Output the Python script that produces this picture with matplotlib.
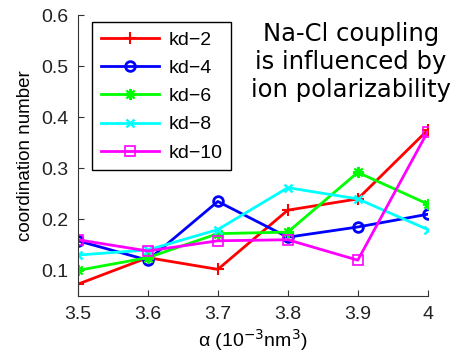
import matplotlib
matplotlib.use("Agg")
import matplotlib.pyplot as plt

alpha = [3.5, 3.6, 3.7, 3.8, 3.9, 4.0]
kd2 = [0.073, 0.125, 0.102, 0.218, 0.240, 0.375]
kd4 = [0.158, 0.120, 0.235, 0.165, 0.185, 0.210]
kd6 = [0.100, 0.125, 0.172, 0.175, 0.292, 0.230]
kd8 = [0.130, 0.140, 0.180, 0.262, 0.240, 0.180]
kd10 = [0.160, 0.138, 0.158, 0.160, 0.120, 0.372]
labels = ["kd\u22122", "kd\u22124", "kd\u22126", "kd\u22128", "kd\u221210"]

plt.rcParams["font.family"] = ["Liberation Sans", "DejaVu Sans"]

fig = plt.figure(figsize=(4.58, 3.6), dpi=100)
ax = fig.add_axes([0.170, 0.178, 0.764, 0.780])

# MATLAB-ish markers: + o * x s
series = [
    (kd2, "#ff0000", "+", 9, "full", 1.5),
    (kd4, "#0000ff", "o", 7, "none", 2.0),
    (kd6, "#00ff00", (8, 2, 0), 8, "full", 1.5),
    (kd8, "#00ffff", "x", 6, "full", 1.8),
    (kd10, "#ff00ff", "s", 7, "none", 1.2),
]
for (ys, c, m, ms, fill, mew), lab in zip(series, labels):
    ax.plot(alpha, ys, color=c, marker=m, markersize=ms, fillstyle=fill,
            markeredgewidth=mew, linewidth=2, label=lab)

ax.set_xlim(3.5, 4.0)
ax.set_ylim(0.05, 0.6)
ax.set_xticks(alpha)
ax.set_xticklabels(["3.5", "3.6", "3.7", "3.8", "3.9", "4"])
ax.set_yticks([0.1, 0.2, 0.3, 0.4, 0.5, 0.6])
ax.spines["top"].set_visible(False)
ax.spines["right"].set_visible(False)
ax.tick_params(direction="in", labelsize=14, length=4, color="#333333",
               labelcolor="#222222", pad=7)
for s in ("left", "bottom"):
    ax.spines[s].set_color("#333333")

ax.set_xlabel("\u03b1 (10$^{-3}$nm$^3$)", fontsize=14, labelpad=3)
ax.set_ylabel("coordination number", fontsize=13.5, labelpad=5)

leg = ax.legend(loc="upper left", bbox_to_anchor=(0.04, 0.975), fontsize=14,
                handlelength=3.0, borderpad=0.45, labelspacing=0.55,
                handletextpad=0.5, borderaxespad=0, fancybox=False,
                framealpha=1, edgecolor="black")
leg.get_frame().set_linewidth(1.0)

ax.text(0.78, 0.833, "Na-Cl coupling\nis influenced by\nion polarizability",
        transform=ax.transAxes, ha="center", va="center", fontsize=17.5,
        family="DejaVu Sans", linespacing=1.2)

fig.savefig("out.png", dpi=100)
